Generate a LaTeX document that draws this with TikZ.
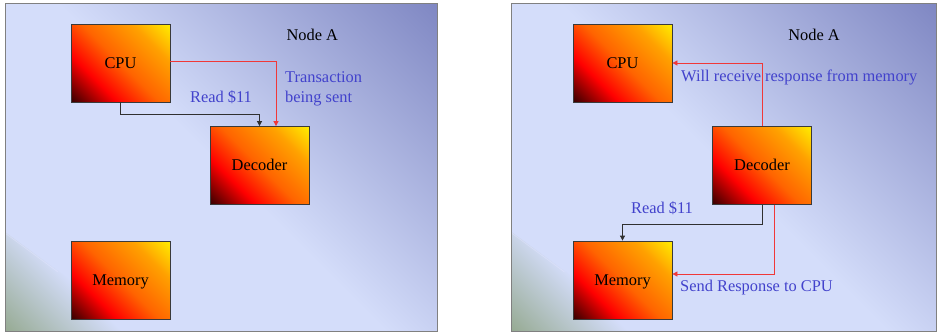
\documentclass[tikz,border=0pt]{standalone}
\usepackage{fontspec}
\setmainfont{Liberation Serif}
\usetikzlibrary{arrows.meta}

\definecolor{panellight}{HTML}{D4DDFA}
\definecolor{paneldark}{HTML}{7E86C2}
\definecolor{cornergreen}{HTML}{97AB94}
\definecolor{streak}{HTML}{E4E6FF}
\definecolor{framegray}{HTML}{808080}
\definecolor{boxdark}{HTML}{3A0000}
\definecolor{boxred}{HTML}{FF0000}
\definecolor{boxorange}{HTML}{FF6400}
\definecolor{boxamber}{HTML}{FFA000}
\definecolor{boxyellow}{HTML}{FFF000}
\definecolor{boxedge}{HTML}{3A3A3A}
\definecolor{labelblue}{HTML}{4242CC}
\definecolor{sigred}{HTML}{F03838}
\definecolor{cmdblack}{HTML}{303030}

% slide background: light on the lower left, darker towards the upper right
\pgfdeclarehorizontalshading{panelshade}{100bp}{color(0bp)=(panellight); color(50bp)=(panellight); color(86bp)=(paneldark); color(100bp)=(paneldark)}
% greenish tint in the lower left corner of each slide
\pgfdeclarehorizontalshading{cornershade}{100bp}{color(0bp)=(cornergreen); color(15bp)=(cornergreen); color(50bp)=(panellight); color(100bp)=(panellight)}
% fill of the functional units: dark red to yellow
\pgfdeclarehorizontalshading{boxshade}{100bp}{color(0bp)=(boxdark); color(15bp)=(boxdark); color(33bp)=(boxred); color(50bp)=(boxorange); color(70bp)=(boxamber); color(86bp)=(boxyellow); color(100bp)=(boxyellow)}

\tikzset{
  unit/.style={draw=boxedge, line width=0.8pt, shade, shading=boxshade, shading angle=45,
    minimum width=99pt, minimum height=78pt, inner sep=0pt,
    text height=10.7pt, text depth=0pt, font=\fontsize{16.4}{20}\selectfont},
  plainlabel/.style={inner sep=0pt, font=\fontsize{16.4}{20}\selectfont, text=black},
  bluelabel/.style={inner sep=0pt, font=\fontsize{16.4}{20}\selectfont, text=labelblue},
  sigline/.style={draw=sigred, line width=0.8pt, -{Triangle[length=5pt,width=5pt]}},
  cmdline/.style={draw=cmdblack, line width=0.8pt, -{Triangle[length=5pt,width=5pt]}},
  slideframe/.style={draw=framegray, line width=1pt},
  cornerstreak/.style={draw=streak, opacity=0.45, line width=0.8pt},
}

\begin{document}
\begin{tikzpicture}[x=1pt, y=-1pt]
\useasboundingbox (0,0) rectangle (937,332);

% ---------- left slide: CPU sends the read ----------
\shade[shading=panelshade, shading angle=45] (5,3) rectangle (437,331);
\shade[shading=cornershade, shading angle=45] (5,232) -- (5,331) -- (140,331) -- cycle;
\draw[cornerstreak] (5,233) -- (58,272);
\draw[slideframe] (5,3) rectangle (437,331);

\node[unit] (cpuL) at (120.5,63) {CPU};
\node[unit] (decL) at (259.5,165.5) {Decoder};
\node[unit] (memL) at (120.5,280) {Memory};

\node[plainlabel, anchor=base] (nodeaL) at (312.3,40.5) {Node A};
\node[bluelabel, anchor=base] (readL) at (221,102) {Read \$11};
\node[bluelabel, anchor=north west, align=left] (sentL) at (285,71.3) {Transaction\\being sent};

\draw[cmdline] (cpuL.south) -- ++(0,12) -| (decL.north);
\draw[sigline] ([yshift=2pt]cpuL.east) -| ([xshift=16.5pt]decL.north);

% ---------- right slide: decoder forwards to memory ----------
\shade[shading=panelshade, shading angle=45] (511.5,3) rectangle (936,331);
\shade[shading=cornershade, shading angle=45] (511.5,232) -- (511.5,331) -- (646.5,331) -- cycle;
\draw[cornerstreak] (511.5,233) -- (564.5,272);
\draw[slideframe] (511.5,3) rectangle (936,331);

\node[unit] (cpuR) at (622.5,63) {CPU};
\node[unit] (decR) at (762,165.5) {Decoder};
\node[unit] (memR) at (622.5,280) {Memory};

\node[plainlabel, anchor=base] (nodeaR) at (814,40.5) {Node A};
\node[bluelabel, anchor=base west] (recvR) at (681,81.5) {Will receive response from memory};
\node[bluelabel, anchor=base] (readR) at (662,213) {Read \$11};
\node[bluelabel, anchor=base west] (respR) at (680,291.5) {Send Response to CPU};

\draw[sigline] (decR.north) |- (cpuR.east);
\draw[cmdline] (decR.south) -- ++(0,19) -| (memR.north);
\draw[sigline] ([xshift=12.3pt]decR.south) |- ([yshift=6pt]memR.east);
\end{tikzpicture}
\end{document}
